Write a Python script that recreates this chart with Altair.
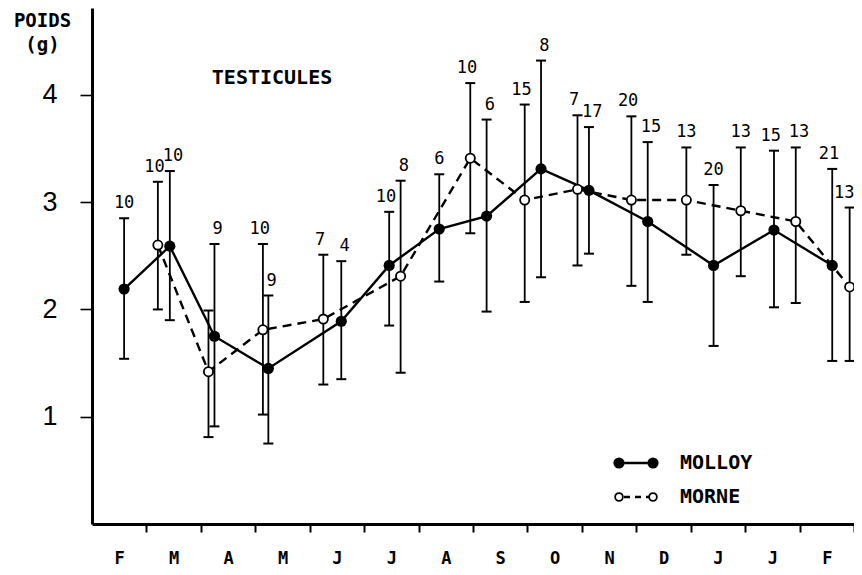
import altair as alt
import pandas as pd

months = ["F", "M", "A", "M", "J", "J", "A", "S", "O", "N", "D", "J", "J", "F"]

# MOLLOY (filled circles, solid line) — x in month units from the start of the axis
molloy_x = [0.59, 1.43, 2.25, 3.24, 4.58, 5.46, 6.38, 7.25, 8.25, 9.13, 10.21, 11.42, 12.53, 13.60]
molloy_mean = [2.19, 2.59, 1.75, 1.45, 1.89, 2.41, 2.75, 2.87, 3.31, 3.11, 2.82, 2.41, 2.74, 2.41]
molloy_low = [1.54, 1.90, 0.91, 0.75, 1.35, 1.85, 2.26, 1.98, 2.30, 2.52, 2.07, 1.66, 2.02, 1.52]
molloy_high = [2.85, 3.29, 2.61, 2.13, 2.45, 2.91, 3.26, 3.77, 4.32, 3.70, 3.56, 3.16, 3.48, 3.31]
molloy_n = ["10", "10", "9", "9", "4", "10", "6", "6", "8", "17", "15", "20", "15", "21"]

# MORNE (open circles, dashed line)
morne_x = [1.21, 2.14, 3.14, 4.25, 5.67, 6.95, 7.95, 8.92, 9.91, 10.92, 11.92, 12.93, 13.92]
morne_mean = [2.60, 1.42, 1.81, 1.91, 2.31, 3.41, 3.02, 3.12, 3.02, 3.02, 2.92, 2.82, 2.21]
morne_low = [2.00, 0.81, 1.02, 1.30, 1.41, 2.71, 2.07, 2.41, 2.22, 2.51, 2.31, 2.06, 1.52]
morne_high = [3.19, 1.99, 2.61, 2.51, 3.20, 4.11, 3.91, 3.81, 3.80, 3.51, 3.51, 3.51, 2.95]
morne_n = ["10", "", "10", "7", "8", "10", "15", "7", "20", "13", "13", "13", "13"]

y_ticks = [1, 2, 3, 4]
y_title = ["POIDS", "(g)"]
panel_title = "TESTICULES"
legend_names = ["MOLLOY", "MORNE"]


def nudge(xs, others, step=0.06, right_limit=13.82):
    """Move a count label away from a neighbouring bar of the other series."""
    out = []
    for x in xs:
        near = [o for o in others if abs(o - x) < 0.5]
        lx = x
        if near:
            o = min(near, key=lambda v: abs(v - x))
            lx = x + (step if x > o else -step)
        out.append(min(lx, right_limit))
    return out


mol = pd.DataFrame({"x": molloy_x, "mean": molloy_mean, "low": molloy_low,
                    "high": molloy_high, "n": molloy_n,
                    "lx": nudge(molloy_x, morne_x)})
mor = pd.DataFrame({"x": morne_x, "mean": morne_mean, "low": morne_low,
                    "high": morne_high, "n": morne_n,
                    "lx": nudge(morne_x, molloy_x)})
both = pd.concat([mol, mor], ignore_index=True)

W, H = 762, 516
MONO = "DejaVu Sans Mono"

month_arr = "[" + ",".join("'" + m + "'" for m in months) + "]"
x_vals = [i * 0.5 for i in range(1, 29)]

xaxis = alt.Axis(
    values=x_vals,
    labelExpr="datum.value % 1 != 0 ? " + month_arr + "[floor(datum.value)] : ''",
    tickOpacity={"condition": {"test": "datum.value % 1 != 0", "value": 0}, "value": 1},
    tickSize=8, tickWidth=2, tickColor="black",
    labelFont=MONO, labelFontWeight="bold", labelFontSize=17, labelColor="black",
    labelPadding=18, grid=False, domainWidth=3, domainColor="black",
)
yaxis = alt.Axis(
    values=y_ticks, tickSize=12, tickWidth=1.6, tickColor="black",
    labelFont="Liberation Sans", labelFontWeight="normal", labelFontSize=27, labelColor="black",
    labelPadding=23, grid=False, domainWidth=3, domainColor="black",
    titleAngle=0, titleX=-50, titleY=3, titleBaseline="top", titleAlign="center",
    titleFont=MONO, titleFontWeight="bold", titleFontSize=19, titleLineHeight=24,
    titleColor="black",
)

xs = alt.Scale(domain=[0, 14], nice=False, zero=False)
X = alt.X("x:Q", scale=xs, axis=xaxis, title=None)
LX = alt.X("lx:Q", scale=xs, axis=xaxis, title=None)
Y = lambda f: alt.Y(f + ":Q", scale=alt.Scale(domain=[0, 4.81], nice=False, zero=True),
                    axis=yaxis, title=y_title)

line_mol = alt.Chart(mol).mark_line(color="black", strokeWidth=2.4).encode(x=X, y=Y("mean"))
line_mor = alt.Chart(mor).mark_line(color="black", strokeWidth=2.4, strokeDash=[9, 6]).encode(x=X, y=Y("mean"))

bars = alt.Chart(both).mark_rule(color="black", strokeWidth=1.8).encode(
    x=X, y=Y("low"), y2="high:Q")
cap_lo = alt.Chart(both).mark_tick(orient="horizontal", size=10, thickness=2, color="black", opacity=1).encode(
    x=X, y=Y("low"))
cap_hi = alt.Chart(both).mark_tick(orient="horizontal", size=10, thickness=2, color="black", opacity=1).encode(
    x=X, y=Y("high"))

pts_mol = alt.Chart(mol).mark_circle(color="black", size=125, opacity=1).encode(x=X, y=Y("mean"))
pts_mor = alt.Chart(mor).mark_circle(fill="white", stroke="black", strokeWidth=1.8, size=85, opacity=1).encode(
    x=X, y=Y("mean"))

labels = alt.Chart(both).mark_text(font=MONO, fontSize=17, dy=-10, baseline="alphabetic",
                                   color="black").encode(x=LX, y=Y("high"), text="n:N")

title_df = pd.DataFrame({"t": [panel_title]})
title_txt = alt.Chart(title_df).mark_text(font=MONO, fontWeight="bold", fontSize=20, color="black").encode(
    x=alt.value(180), y=alt.value(70), text="t:N")

# hand-drawn style legend
leg_df = pd.DataFrame({"name": legend_names})
one = pd.DataFrame({"k": [0]})
leg_line1 = alt.Chart(one).mark_rule(color="black", strokeWidth=2.4).encode(
    x=alt.value(527), x2=alt.value(561), y=alt.value(455))
leg_line2 = alt.Chart(one).mark_rule(color="black", strokeWidth=2.4, strokeDash=[6, 5]).encode(
    x=alt.value(532), x2=alt.value(557), y=alt.value(489))
leg_pts = []
for px in (527, 561):
    leg_pts.append(alt.Chart(one).mark_circle(color="black", size=125, opacity=1).encode(
        x=alt.value(px), y=alt.value(455)))
    leg_pts.append(alt.Chart(one).mark_circle(fill="white", stroke="black", strokeWidth=1.8, size=60,
                                              opacity=1).encode(x=alt.value(px), y=alt.value(489)))
leg_t1 = alt.Chart(leg_df.iloc[[0]]).mark_text(font=MONO, fontWeight="bold", fontSize=20, align="left",
                                               baseline="middle", color="black").encode(
    x=alt.value(588), y=alt.value(455), text="name:N")
leg_t2 = alt.Chart(leg_df.iloc[[1]]).mark_text(font=MONO, fontWeight="bold", fontSize=20, align="left",
                                               baseline="middle", color="black").encode(
    x=alt.value(588), y=alt.value(489), text="name:N")

chart = alt.layer(
    line_mor, line_mol, bars, cap_lo, cap_hi, pts_mol, pts_mor, labels,
    title_txt, leg_line1, leg_line2, *leg_pts, leg_t1, leg_t2,
).properties(
    width=W, height=H,
    autosize=alt.AutoSizeParams(type="none"),
    padding={"left": 84, "top": 0, "right": 0, "bottom": 43},
    background="white",
).configure_view(stroke=None)

chart.save("out.html", embed_options={"renderer": "svg", "actions": False})
